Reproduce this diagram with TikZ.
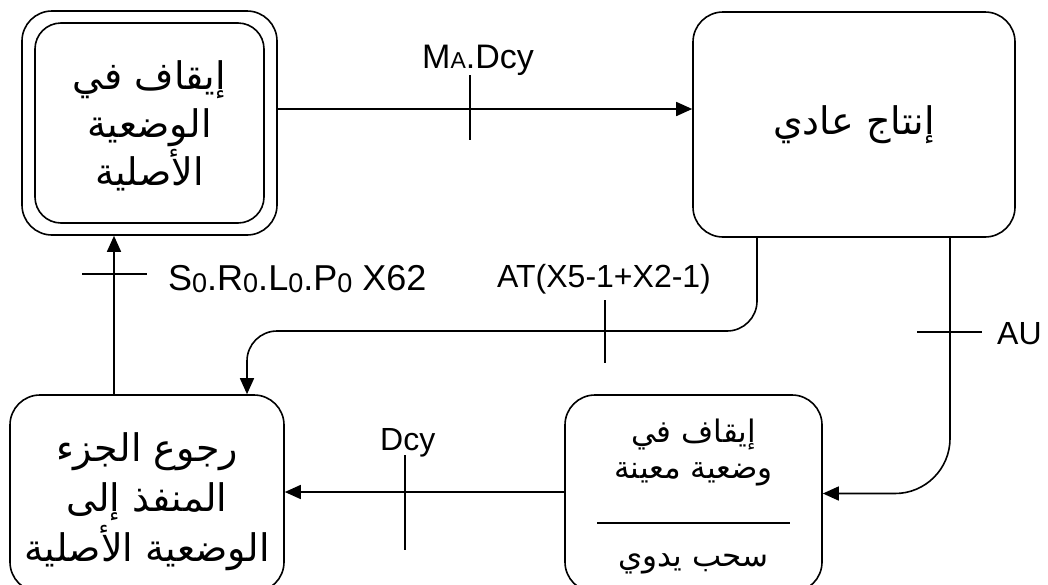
\documentclass[tikz,border=0pt]{standalone}
\usepackage{fontspec}
\setmainfont{Liberation Sans}
\newfontfamily\arabicfont[Script=Arabic]{DejaVu Sans}
\TeXXeTstate=1
\usetikzlibrary{arrows.meta}
% one right-to-left line of Arabic
\newcommand{\rl}[1]{\beginR#1\endR}
% lowered index digit used in the variable names
\newcommand{\lowidx}[1]{\raisebox{-2pt}{\fontsize{27}{27}\selectfont #1}}
\begin{document}
\begin{tikzpicture}[x=1pt,y=-1pt]
\tikzset{
  state/.style={draw, rounded corners=30pt, inner sep=0pt, line width=1.6pt},
  conn/.style={line width=1.6pt, -{Triangle[length=16pt,width=14pt]}},
  tick/.style={line width=1.6pt},
  bigar/.style={font=\arabicfont\fontsize{38}{48}\selectfont, align=center, inner sep=0pt},
  smallar/.style={font=\arabicfont\fontsize{31}{36}\selectfont, align=center, inner sep=0pt},
  lab/.style={font=\fontsize{32}{36}\selectfont, inner sep=0pt, anchor=base west},
}
\useasboundingbox (0,0) rectangle (1048,584);

% initial step (double frame)
\node[state, minimum width=255pt, minimum height=224pt] (init) at (149.5,123) {};
\node[state, rounded corners=26pt, minimum width=229pt, minimum height=200pt] (initin) at (149.5,123) {};
\node[bigar] (initt) at (149.5,126) {\rl{إيقاف في}\\\rl{الوضعية}\\\rl{الأصلية}};

% normal production
\node[state, minimum width=322pt, minimum height=225pt, bigar] (prod) at (854,124.5) {\rl{إنتاج عادي}};

% return to initial position
\node[state, minimum width=274pt, minimum height=197pt] (ret) at (147,493.5) {};
\node[bigar, font=\arabicfont\fontsize{38}{50}\selectfont] (rett) at (147,502) {\rl{رجوع الجزء}\\\rl{المنفذ إلى}\\\rl{الوضعية الأصلية}};

% stop in a given position / manual withdrawal
\node[state, minimum width=257pt, minimum height=197pt] (stop) at (693.5,493.5) {};
\node[smallar] (stopt) at (693.5,452) {\rl{إيقاف في}\\\rl{وضعية معينة}};
\node[smallar] (mant) at (693.5,564) {\rl{سحب يدوي}};
\draw[tick] (597,523) -- (790,523);

% init -> production
\coordinate (r1) at (0,109);
\draw[conn] (init.east |- r1) -- (prod.west |- r1);
\draw[tick] (470,75) -- (470,140);
\node[lab, font=\fontsize{34}{38}\selectfont] (l1) at (422,68) {M{\fontsize{23}{23}\selectfont A}.Dcy};

% return -> init
\coordinate (c2) at (114,0);
\draw[conn] (ret.north -| c2) -- (init.south -| c2);
\draw[tick] (82,274) -- (147,274);
\node[lab, font=\fontsize{36}{40}\selectfont] (l2) at (168,290) {S\lowidx{0}.R\lowidx{0}.L\lowidx{0}.P\lowidx{0} X62};

% production -> return
\coordinate (c3) at (757,0);
\coordinate (c3b) at (247,331);
\draw[conn, rounded corners=30pt] (prod.south -| c3) |- (c3b) -- (ret.north -| c3b);
\draw[tick] (605,300) -- (605,363);
\node[lab] (l3) at (497,287) {AT(X5-1+X2-1)};

% production -> stop
\coordinate (c4) at (950,0);
\draw[conn, rounded corners=55pt] (prod.south -| c4) |- (stop.east);
\draw[tick] (917,332) -- (982,332);
\node[lab] (l4) at (997,344) {AU};

% stop -> return
\coordinate (r5) at (0,492);
\draw[conn] (stop.west |- r5) -- (ret.east |- r5);
\draw[tick] (405,455) -- (405,550);
\node[lab] (l5) at (380,450) {Dcy};
\end{tikzpicture}
\end{document}
